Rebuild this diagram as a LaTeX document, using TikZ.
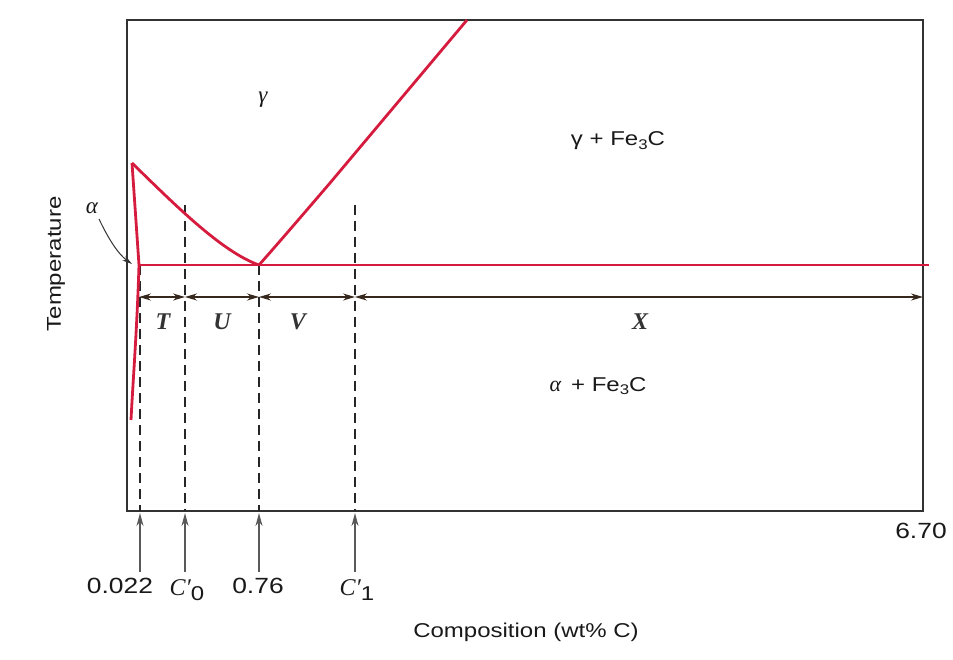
\documentclass[tikz,border=0pt]{standalone}
\usepackage{fontspec}
\setsansfont{Liberation Sans}[FakeStretch=1.2]
\setmainfont{Liberation Serif}
\usetikzlibrary{arrows.meta}
\definecolor{phred}{RGB}{214,28,62}
\definecolor{framec}{RGB}{50,50,50}
\definecolor{dimc}{RGB}{55,40,30}
\newcommand{\subnum}[1]{\raisebox{-0.35ex}{\fontsize{14}{15}\selectfont #1}}
\newcommand{\subnumb}[1]{\raisebox{-0.5ex}{\sffamily\upshape\fontsize{20}{21}\selectfont #1}}
\tikzset{
  phase/.style={draw=phred,line width=2.8pt},
  frameline/.style={draw=framec,line width=1.5pt},
  dashv/.style={draw=black!85,line width=1.5pt,dash pattern=on 10pt off 6pt},
  dimline/.style={draw=dimc,line width=1.1pt,{Stealth[length=12pt,width=7pt]}-{Stealth[length=12pt,width=7pt]}},
  upar/.style={draw=black!65,line width=1.4pt,-{Stealth[length=13pt,width=7pt]}},
  sflab/.style={font=\sffamily\fontsize{20}{22}\selectfont,text=black!90,inner sep=1pt},
  seglab/.style={font=\bfseries\itshape\fontsize{24}{26}\selectfont,text=black!80,inner sep=1pt},
  greek/.style={font=\itshape\fontsize{23}{25}\selectfont,text=black!90,inner sep=1pt},
}
\begin{document}
\begin{tikzpicture}[x=1pt,y=-1pt]
\useasboundingbox (0,0) rectangle (953,660);
% frame
\coordinate (fTL) at (127,20);
\coordinate (fBR) at (923,511);
\draw[frameline] (fTL) rectangle (fBR);
% key coordinates
\coordinate (top) at (132,163);
\coordinate (ajunc) at (139,265);
\coordinate (eut) at (259,265);
\coordinate (acmtop) at (467,20);
\coordinate (eutR) at (929,265);
\coordinate (abot) at (131,420);
% dashed verticals
\coordinate (d1t) at (140,265); \coordinate (d1b) at (140,511);
\coordinate (d2t) at (185,205); \coordinate (d2b) at (185,511);
\coordinate (d3t) at (259,265); \coordinate (d3b) at (259,511);
\coordinate (d4t) at (355,205); \coordinate (d4b) at (355,511);
\draw[dashv] (d1t) -- (d1b);
\draw[dashv] (d2t) -- (d2b);
\draw[dashv] (d3t) -- (d3b);
\draw[dashv] (d4t) -- (d4b);
% phase boundaries
\draw[phase] (top) .. controls (175,205) and (222,252) .. (eut);
\draw[phase] (top) -- (ajunc);
\draw[phase] (ajunc) .. controls (137,330) and (133,380) .. (abot);
\draw[phase] (ajunc) -- (eutR);
\draw[phase] (eut) .. controls (275,247) and (300,218) .. (330,183) -- (acmtop);
% dimension line
\coordinate (m0) at (139,297);
\coordinate (m1) at (185,297);
\coordinate (m2) at (259,297);
\coordinate (m3) at (355,297);
\coordinate (m4) at (923,297);
\draw[dimline] (m0) -- (m1);
\draw[dimline] (m1) -- (m2);
\draw[dimline] (m2) -- (m3);
\draw[dimline] (m3) -- (m4);
\node[seglab] (T) at (163,322) {T};
\node[seglab] (U) at (222,322) {U};
\node[seglab] (V) at (298,322) {V};
\node[seglab] (X) at (640,322) {X};
% alpha label and arrow
\node[greek] (alab) at (92,208) {α};
\coordinate (aend) at (132,264);
\draw[draw=black!80,line width=1pt,-{Stealth[length=10pt,width=5.5pt]}] (99,219) .. controls (108,238) and (118,254) .. (aend);
% phase labels
\node[greek] (gam) at (263,100) {γ};
\node[sflab] (gfe) at (618,141) {γ + Fe\subnum{3}C};
\node[sflab] (afe) at (598,386) {{\itshape\rmfamily\fontsize{22}{24}\selectfont α}\enspace + Fe\subnum{3}C};
% bottom arrows
\coordinate (b1) at (140,572); \coordinate (b2) at (185,572);
\coordinate (b3) at (259,572); \coordinate (b4) at (355,572);
\coordinate (t1) at (140,513); \coordinate (t2) at (185,513);
\coordinate (t3) at (259,513); \coordinate (t4) at (355,513);
\draw[upar] (b1) -- (t1);
\draw[upar] (b2) -- (t2);
\draw[upar] (b3) -- (t3);
\draw[upar] (b4) -- (t4);
\node[sflab,font=\sffamily\fontsize{22}{24}\selectfont] (l1) at (120,586) {0.022};
\node[inner sep=1pt,font=\itshape\fontsize{24}{26}\selectfont,text=black!90] (l2) at (187,590) {C′\subnumb{0}};
\node[sflab,font=\sffamily\fontsize{22}{24}\selectfont] (l3) at (258,586) {0.76};
\node[inner sep=1pt,font=\itshape\fontsize{24}{26}\selectfont,text=black!90] (l4) at (357,590) {C′\subnumb{1}};
\node[sflab,font=\sffamily\fontsize{22}{24}\selectfont] (l5) at (921,531) {6.70};
% axis labels
\node[sflab] (xl) at (526,632) {Composition (wt\% C)};
\node[sflab,rotate=90] (yl) at (56,264) {Temperature};
\end{tikzpicture}
\end{document}
